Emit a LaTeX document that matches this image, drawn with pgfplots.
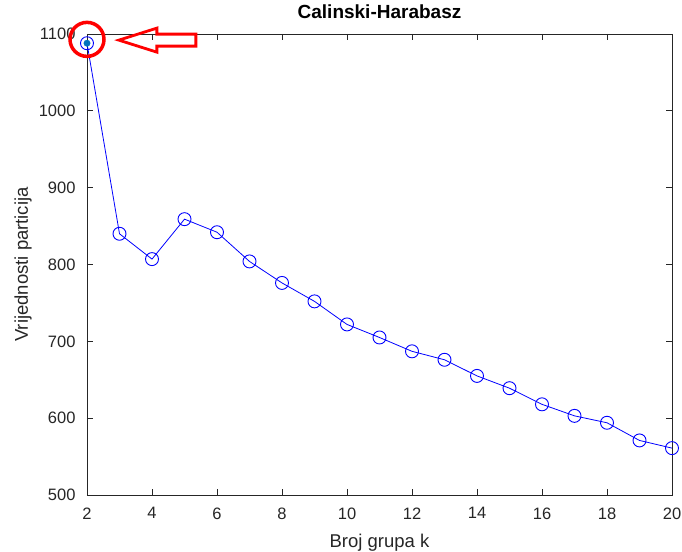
\documentclass[border=0pt]{standalone}
\usepackage{fontspec}
\setmainfont{Liberation Sans}
\usepackage{pgfplots}
\pgfplotsset{compat=1.18}
\usetikzlibrary{calc}
\definecolor{axgray}{rgb}{0.15,0.15,0.15}
\definecolor{mlblue}{rgb}{0,0.447,0.741}
\begin{document}
\begin{tikzpicture}
\begin{axis}[
    name=ax,
    width=585pt, height=461pt, scale only axis,
    xmin=2, xmax=20, ymin=500, ymax=1100,
    xtick={2,4,...,20}, ytick={500,600,...,1100},
    tick align=inside, tick pos=both,
    major tick length=6pt,
    axis line style={axgray, line width=0.8pt},
    every tick/.style={axgray, line width=0.8pt},
    tick label style={font=\fontsize{16.5}{18}\selectfont, text=axgray},
    xticklabel style={yshift=-9pt},
    yticklabel style={xshift=-8pt},
    /pgf/number format/assume math mode=true,
    /pgf/number format/1000 sep={},
    xlabel={Broj grupa k},
    ylabel={Vrijednosti particija},
    every axis x label/.style={at={(axis description cs:0.5,0)}, anchor=base,
        yshift=-53pt, font=\fontsize{18.5}{20}\selectfont, text=axgray},
    every axis y label/.style={at={(axis description cs:0,0.5)}, anchor=center,
        rotate=90, yshift=64pt, font=\fontsize{18.5}{20}\selectfont, text=axgray},
    title={\bfseries Calinski-Harabasz},
    title style={at={(axis description cs:0.5,1)}, anchor=base, yshift=9pt,
        font=\fontsize{19}{21}\selectfont},
    clip=false,
]
\addplot[blue, line width=0.8pt, mark=o, mark size=6.5pt,
         mark options={line width=0.9pt}] coordinates {
(2,1088) (3,840) (4,807) (5,859) (6,842) (7,804) (8,776) (9,752) (10,722)
(11,705) (12,687) (13,676) (14,655) (15,639) (16,618) (17,603) (18,594)
(19,571) (20,561)};
\addplot[only marks, mark=*, mark size=3.2pt,
         mark options={fill=mlblue, draw=mlblue}] coordinates {(2,1088)};
\draw[red, line width=3.5pt] (axis cs:2,1093) circle[radius=17pt];
\draw[red, line width=2.8pt, line join=miter]
   (axis cs:2.98,1092) -- ++(38pt,12pt) -- ++(0pt,-6pt) -- ++(39pt,0pt)
   -- ++(0pt,-12pt) -- ++(-39pt,0pt) -- ++(0pt,-6pt) -- cycle;
\end{axis}
\pgfresetboundingbox
\path ($(ax.south west)+(-87pt,-57pt)$) rectangle ($(ax.north east)+(10pt,34pt)$);
\end{tikzpicture}
\end{document}
